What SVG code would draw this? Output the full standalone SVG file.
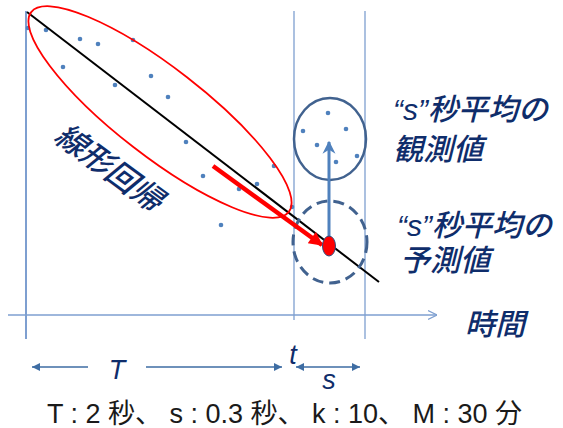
<svg xmlns="http://www.w3.org/2000/svg" width="563" height="428" viewBox="0 0 563 428">
<style>
.grid{stroke:#7E9FD0;fill:none;stroke-width:1.3}
.dot{fill:#4F81BD}
.lbl{font-family:"Liberation Sans","Noto Sans CJK JP",sans-serif;font-style:italic;fill:#0F2D6B;font-weight:500}
.dim{stroke:#3E6DA3;stroke-width:1.6;fill:none}
.foot{font-family:"Liberation Sans","Noto Sans CJK JP",sans-serif;font-size:27px;fill:#1a1a1a}
</style>
<defs>
<marker id="tri" viewBox="0 0 10 10" refX="10" refY="5" markerWidth="10" markerHeight="8" markerUnits="userSpaceOnUse" orient="auto-start-reverse"><path d="M0,0L10,5L0,10z" fill="#3E6DA3"/></marker>
<marker id="open" viewBox="0 0 10 10" refX="10" refY="5" markerWidth="9" markerHeight="14" markerUnits="userSpaceOnUse" orient="auto"><path d="M0,0L10,5L0,10" fill="none" stroke="#7E9FD0" stroke-width="1.3"/></marker>
<marker id="red" viewBox="0 0 10 10" refX="9" refY="5" markerWidth="16" markerHeight="14" markerUnits="userSpaceOnUse" orient="auto"><path d="M0,0L10,5L0,10z" fill="#FF0000"/></marker>
<marker id="blu" viewBox="0 0 10 10" refX="9" refY="5" markerWidth="13" markerHeight="14" markerUnits="userSpaceOnUse" orient="auto"><path d="M0,0L10,5L0,10L3,5z" fill="#4F81BD"/></marker>
</defs>
<g id="axes">
<line class="grid" x1="26" y1="11" x2="26" y2="339" style="stroke-width:2"/>
<line class="grid" x1="294" y1="11" x2="294" y2="320"/>
<line class="grid" x1="365" y1="11" x2="365" y2="339"/>
<line class="grid" x1="8" y1="315" x2="437" y2="315" marker-end="url(#open)"/>
</g>
<g id="data">
<circle class="dot" cx="28" cy="28" r="2.3"/>
<circle class="dot" cx="46" cy="30" r="2.3"/>
<circle class="dot" cx="80" cy="39" r="2.3"/>
<circle class="dot" cx="98" cy="44" r="2.3"/>
<circle class="dot" cx="133" cy="40" r="2.3"/>
<circle class="dot" cx="63" cy="67" r="2.3"/>
<circle class="dot" cx="151" cy="76" r="2.3"/>
<circle class="dot" cx="115" cy="85" r="2.3"/>
<circle class="dot" cx="168" cy="97" r="2.3"/>
<circle class="dot" cx="186" cy="142" r="2.3"/>
<circle class="dot" cx="203" cy="176" r="2.3"/>
<circle class="dot" cx="274" cy="166" r="2.3"/>
<circle class="dot" cx="257" cy="184" r="2.3"/>
<circle class="dot" cx="239" cy="189" r="2.3"/>
<circle class="dot" cx="221" cy="225" r="2.3"/>
<circle class="dot" cx="292" cy="207" r="2.3"/>
<circle class="dot" cx="328" cy="113" r="2.3"/>
<circle class="dot" cx="303" cy="131" r="2.3"/>
<circle class="dot" cx="346" cy="129" r="2.3"/>
<circle class="dot" cx="317" cy="145" r="2.3"/>
<circle class="dot" cx="336" cy="162" r="2.3"/>
<circle class="dot" cx="357" cy="156" r="2.3"/>
</g>
<g id="regression">
<line x1="27" y1="12" x2="379" y2="282" stroke="#000" stroke-width="2"/>
<ellipse cx="160" cy="112" rx="163" ry="44" transform="rotate(37.8 160 112)" fill="none" stroke="#FF0000" stroke-width="1.8"/>
<text class="lbl" font-size="31" transform="translate(109 168) rotate(36.3)" text-anchor="middle" dominant-baseline="central">線形回帰</text>
</g>
<g id="observed">
<ellipse cx="330" cy="139" rx="36" ry="41" fill="none" stroke="#41628F" stroke-width="2.5"/>
</g>
<g id="predicted">
<ellipse cx="330" cy="242" rx="37" ry="41" fill="none" stroke="#41628F" stroke-width="3" stroke-dasharray="11 6"/>
</g>
<g id="connectors">
<line x1="213" y1="166" x2="322" y2="245" stroke="#FF0000" stroke-width="4.5" marker-end="url(#red)"/>
<line x1="329" y1="237" x2="329" y2="142" stroke="#4F81BD" stroke-width="3" marker-end="url(#blu)"/>
</g>
<g id="pred-point">
<ellipse cx="329" cy="246" rx="6.5" ry="10" fill="#FF0000" stroke="#2F4F7F" stroke-width="1"/>
</g>
<g id="labels">
<text class="lbl" font-size="30" x="393" y="120">“s”秒平均の</text>
<text class="lbl" font-size="30" x="393" y="160">観測値</text>
<text class="lbl" font-size="30" x="397" y="236">“s”秒平均の</text>
<text class="lbl" font-size="30" x="400" y="271">予測値</text>
<text class="lbl" font-size="30" x="465" y="335">時間</text>
</g>
<g id="dims">
<line class="dim" x1="32" y1="367" x2="88" y2="367" marker-start="url(#tri)"/>
<line class="dim" x1="146" y1="367" x2="282" y2="367" marker-end="url(#tri)"/>
<line class="dim" x1="296" y1="367" x2="360" y2="367" marker-start="url(#tri)" marker-end="url(#tri)"/>
<text class="lbl" font-size="27" x="117" y="379" text-anchor="middle">T</text>
<text class="lbl" font-size="27" x="293" y="364" text-anchor="middle">t</text>
<text class="lbl" font-size="27" x="329" y="389" text-anchor="middle">s</text>
</g>
<g id="footer">
<text class="foot" x="47" y="423" textLength="475" lengthAdjust="spacing">T : 2 秒、 s : 0.3 秒、 k : 10、 M : 30 分</text>
</g>
</svg>
